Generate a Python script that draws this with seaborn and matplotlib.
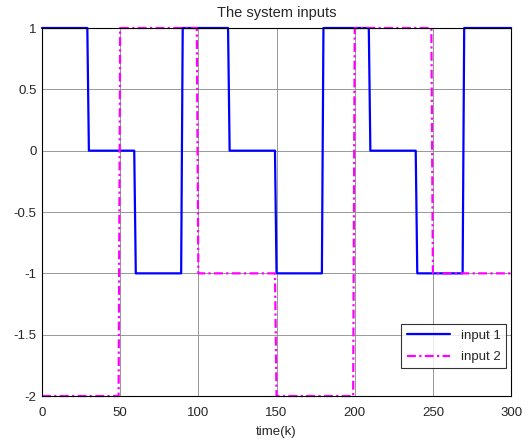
import numpy as np
import pandas as pd
import seaborn as sns
import matplotlib.pyplot as plt

# step levels and how many samples each level lasts
u1_levels = [1, 0, -1, 1, 0, -1, 1, 0, -1, 1]
u1_lengths = [30, 30, 30, 30, 30, 30, 30, 30, 30, 31]
u2_levels = [-2, 1, -1, -2, 1, -1]
u2_lengths = [50, 50, 50, 50, 50, 51]

u1 = np.repeat(u1_levels, u1_lengths)
u2 = np.repeat(u2_levels, u2_lengths)
k = np.arange(len(u1))

df = pd.DataFrame({"k": k, "input 1": u1, "input 2": u2})
long_df = df.melt(id_vars="k", var_name="signal", value_name="u")

sns.set_style("white")
plt.rcParams['font.family'] = ['Liberation Sans', 'DejaVu Sans']

fig = plt.figure(figsize=(5.28, 4.41), dpi=100)
ax = fig.add_axes([0.0795, 0.102, 0.8885, 0.8345])

sns.lineplot(data=long_df, x="k", y="u", hue="signal", style="signal",
             palette={"input 1": "#0000ff", "input 2": "#ff00ff"},
             dashes={"input 1": "", "input 2": (4, 1.5, 1, 1.5)},
             linewidth=1.6, ax=ax)
for ln in ax.get_lines():
    ln.set_clip_on(False)

ax.set_xlim(0, 300)
ax.set_ylim(-2, 1)
ax.set_xticks(np.arange(0, 301, 50))
ax.set_yticks([-2, -1.5, -1, -0.5, 0, 0.5, 1])
ax.set_yticklabels(["-2", "-1.5", "-1", "-0.5", "0", "0.5", "1"])
ax.grid(True, color="#888888", linewidth=0.6)
ax.tick_params(direction="in", labelsize=9.5, length=4)
ax.tick_params(axis="x", pad=8)
ax.tick_params(axis="y", pad=4)
for s in ax.spines.values():
    s.set_color("black")
    s.set_linewidth(0.8)
ax.set_xlabel("time(k)", fontsize=9.5, labelpad=5)
ax.set_ylabel("")
ax.set_title("The system inputs", fontsize=10.5, pad=8)

leg = ax.legend(loc="lower right", bbox_to_anchor=(0.9887, 0.075),
                borderaxespad=0, fontsize=9.5, frameon=True, fancybox=False,
                edgecolor="black", handlelength=3.3, labelspacing=0.7)
leg.get_frame().set_linewidth(0.8)

fig.savefig("out.png", dpi=100)
